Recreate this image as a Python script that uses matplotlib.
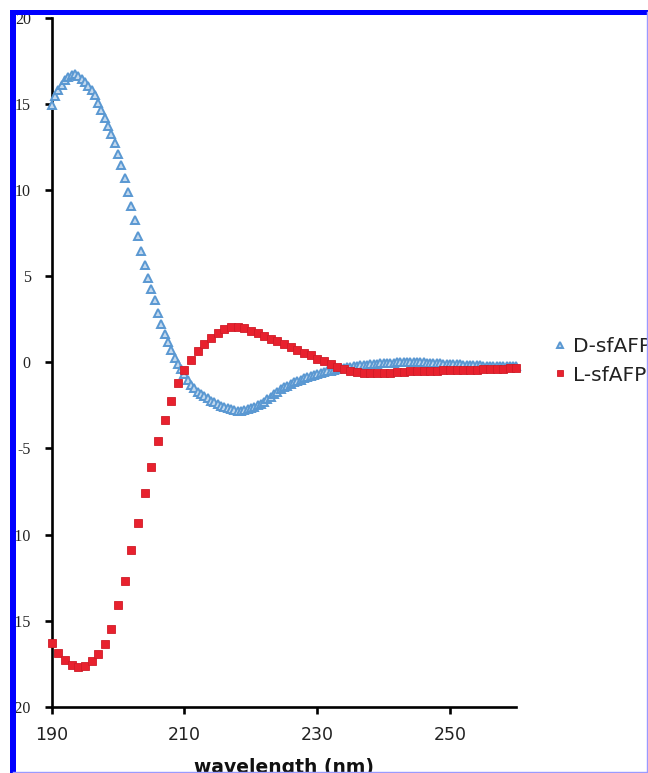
import numpy as np
import matplotlib
matplotlib.use("Agg")
import matplotlib.pyplot as plt
from matplotlib.patches import Rectangle
from matplotlib.lines import Line2D

# ---- data ----
wl_start, wl_end = 190, 260
wl_D = np.arange(wl_start, wl_end + 0.25, 0.5)   # D-sfAFP sampled every 0.5 nm
wl_L = np.arange(wl_start, wl_end + 0.5, 1.0)    # L-sfAFP sampled every 1 nm

D_sfAFP = [
    14.95, 15.45, 15.8, 16.1, 16.4, 16.55, 16.7, 16.75, 16.62, 16.48,
    16.25, 16.05, 15.8, 15.5, 15.05, 14.65, 14.2, 13.75, 13.25, 12.72,
    12.1, 11.45, 10.7, 9.9, 9.05, 8.25, 7.35, 6.45, 5.65, 4.9,
    4.25, 3.6, 2.85, 2.2, 1.65, 1.2, 0.7, 0.25, -0.1, -0.4,
    -0.7, -1.0, -1.3, -1.52, -1.7, -1.85, -1.98, -2.1, -2.22, -2.33,
    -2.43, -2.52, -2.6, -2.67, -2.73, -2.77, -2.8, -2.8, -2.78, -2.74,
    -2.68, -2.6, -2.5, -2.4, -2.28, -2.14, -2.0, -1.85, -1.7, -1.57,
    -1.45, -1.35, -1.25, -1.16, -1.08, -1.0, -0.93, -0.87, -0.81, -0.75,
    -0.69, -0.63, -0.58, -0.53, -0.48, -0.43, -0.39, -0.35, -0.31, -0.28,
    -0.25, -0.22, -0.19, -0.17, -0.15, -0.13, -0.11, -0.09, -0.07, -0.06,
    -0.05, -0.04, -0.03, -0.02, -0.01, 0.0, 0.01, 0.01, 0.02, 0.02,
    0.01, 0.0, -0.01, -0.02, -0.03, -0.04, -0.05, -0.06, -0.07, -0.08,
    -0.09, -0.1, -0.11, -0.12, -0.13, -0.14, -0.15, -0.16, -0.17, -0.18,
    -0.19, -0.2, -0.2, -0.21, -0.21, -0.22, -0.22, -0.23, -0.23, -0.24,
    -0.24,
]

L_sfAFP = [
    -16.3, -16.86, -17.29, -17.58, -17.71, -17.64, -17.35, -16.96, -16.36, -15.5,
    -14.1, -12.7, -10.9, -9.31, -7.61, -6.06, -4.57, -3.35, -2.23, -1.22,
    -0.45, 0.15, 0.65, 1.06, 1.43, 1.68, 1.92, 2.05, 2.07, 1.97,
    1.84, 1.68, 1.52, 1.37, 1.22, 1.05, 0.88, 0.72, 0.55, 0.4,
    0.22, 0.05, -0.12, -0.28, -0.4, -0.5, -0.57, -0.62, -0.64, -0.64,
    -0.62, -0.6, -0.57, -0.55, -0.53, -0.51, -0.5, -0.49, -0.48, -0.47,
    -0.46, -0.45, -0.44, -0.43, -0.42, -0.41, -0.4, -0.39, -0.38, -0.36,
    -0.35,
]

x_ticks = [190, 210, 230, 250]
y_ticks = [-20, -15, -10, -5, 0, 5, 10, 15, 20]
y_ticklabels = ["-20", "-15", "-10", "-5", "0", "5", "10", "15", "20"]
series_labels = ["D-sfAFP", "L-sfAFP"]
x_label = "wavelength (nm)"

# ---- figure ----
W, H = 648, 773
fig = plt.figure(figsize=(W / 100, H / 100), dpi=100)
fig.patch.set_facecolor("white")

left, right, top, bottom = 51.7, 516.5, 17.9, 706.7
ax = fig.add_axes([left / W, 1 - bottom / H, (right - left) / W, (bottom - top) / H])

blue = "#5a98d2"
red = "#e8212e"

ax.plot(wl_D, D_sfAFP, linestyle="none", marker="^", markersize=5.8,
        markerfacecolor="#c4d9ee", markeredgecolor=blue, markeredgewidth=1.4,
        clip_on=False, zorder=3, label=series_labels[0])
ax.plot(wl_L, L_sfAFP, linestyle="none", marker="s", markersize=5.6,
        markerfacecolor=red, markeredgecolor="#d01c28", markeredgewidth=0.6,
        clip_on=False, zorder=4, label=series_labels[1])

ax.set_xlim(190, 260)
ax.set_ylim(-20, 20)
ax.set_xticks(x_ticks)
ax.set_xticklabels([str(t) for t in x_ticks], fontsize=12.5, family="DejaVu Sans",
                   color="#222222")
ax.set_yticks(y_ticks)
ax.set_yticklabels(y_ticklabels, fontsize=11.5, family="Liberation Serif",
                   color="#222222")

for s in ["top", "right"]:
    ax.spines[s].set_visible(False)
for s in ["left", "bottom"]:
    ax.spines[s].set_linewidth(1.9)
    ax.spines[s].set_color("black")
ax.tick_params(axis="both", direction="out", length=5, width=1.9, color="black")
ax.tick_params(axis="y", pad=10)
ax.tick_params(axis="x", pad=9)

ax.set_xlabel(x_label, fontsize=13.5, fontweight="bold", family="DejaVu Sans",
              labelpad=10, color="#111111")

leg = fig.legend(loc="center left", bbox_to_anchor=(554.6 / W, 1 - 361 / H),
                 frameon=False, fontsize=14.5, handlelength=0.55,
                 handletextpad=0.35, borderpad=0, borderaxespad=0,
                 labelspacing=0.45, markerscale=0.85)
for t in leg.get_texts():
    t.set_color("#222222")

# ---- blue frame of the reference image ----
fig.add_artist(Rectangle((10 / W, 0), 6 / W, 1 - 10 / H, transform=fig.transFigure,
                         facecolor="#0000ff", edgecolor="none", zorder=10))
fig.add_artist(Rectangle((10 / W, 1 - 15 / H), 1 - 10 / W, 5 / H, transform=fig.transFigure,
                         facecolor="#0000ff", edgecolor="none", zorder=10))
fig.add_artist(Line2D([646.5 / W, 646.5 / W], [0, 1 - 12 / H], transform=fig.transFigure,
                      color="#9a9aff", linewidth=1.0, zorder=10))
fig.add_artist(Line2D([13 / W, 1], [1.5 / H, 1.5 / H], transform=fig.transFigure,
                      color="#9a9aff", linewidth=1.0, zorder=10))

fig.savefig("out.png", dpi=100)
